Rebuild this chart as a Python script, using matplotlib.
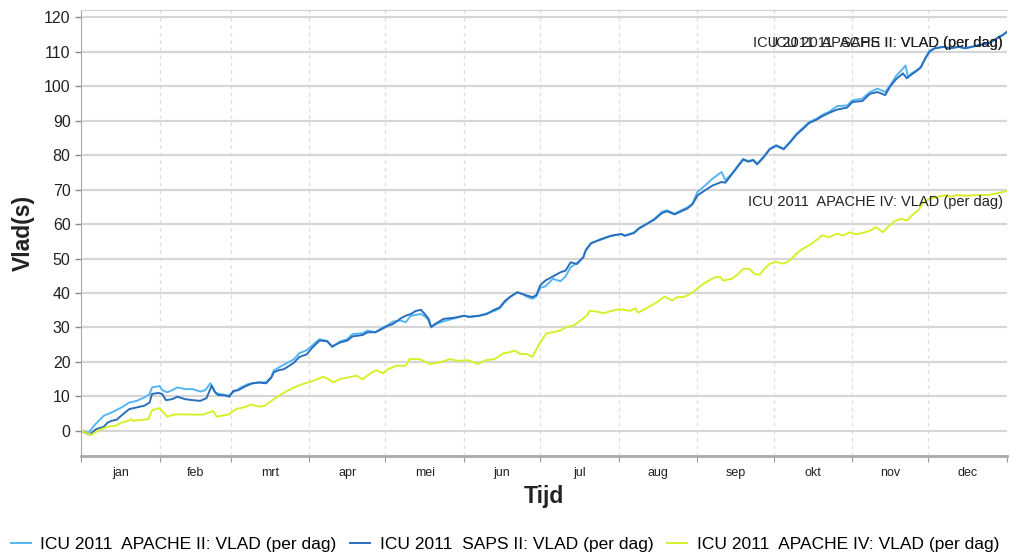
import matplotlib
matplotlib.use("Agg")
import matplotlib.pyplot as plt

plt.rcParams['font.family'] = ['Liberation Sans', 'DejaVu Sans']

# Maandgrenzen (dag van het jaar) en labels
month_edges = [0, 31, 59, 90, 120, 151, 181, 212, 243, 273, 304, 334, 365]
month_labels = ['jan', 'feb', 'mrt', 'apr', 'mei', 'jun', 'jul', 'aug', 'sep', 'okt', 'nov', 'dec']

# ICU 2011 APACHE II: VLAD (per dag)
apache2_day = [0, 3, 5, 7, 9, 12, 16, 19, 22, 25, 27, 28, 31, 32, 34, 36, 38, 41, 44, 47,
               49, 51, 52, 53, 55, 58, 60, 61, 63, 66, 68, 70, 73, 75, 76, 78, 80, 84, 86, 89,
               91, 94, 97, 99, 102, 105, 107, 111, 113, 116, 118, 121, 123, 126, 128, 130, 134, 136, 137, 138,
               140, 143, 147, 151, 153, 157, 160, 163, 165, 167, 169, 172, 174, 176, 178, 179.5, 181, 183, 186, 189,
               191, 193, 195, 198, 199, 201, 202, 205, 207, 209, 213, 214, 218, 220, 223, 226, 229, 231, 234, 236,
               239, 241, 243, 246, 249, 252.5, 254, 256.5, 259, 261, 263, 265, 266.5, 269, 271.5, 274, 277, 279.5, 282, 285,
               287, 290, 292, 295, 298, 302, 304, 308, 311, 314, 317, 319, 321.5, 323.5, 325, 326, 327, 329.5, 331, 333,
               334.5, 336.5, 340, 342.5, 346, 348.5, 351, 354.5, 358, 361, 363.5, 365]
apache2_val = [0, -0.6, 1.4, 2.9, 4.4, 5.3, 6.8, 8.2, 8.7, 9.7, 10.6, 12.6, 13.0, 11.8, 11.2, 11.8, 12.6, 12.1, 12.1, 11.4,
               11.8, 13.8, 12.6, 10.9, 10.7, 10.2, 11.2, 11.6, 12.6, 13.6, 13.8, 14.1, 14.1, 15.7, 17.5, 18.4, 19.2, 20.8, 22.5, 23.4,
               24.7, 26.6, 26.1, 24.3, 25.9, 26.6, 28.1, 28.3, 29.1, 28.6, 29.6, 30.7, 31.7, 32.0, 31.5, 33.4, 33.9, 33.0, 32.0, 30.0,
               31.0, 31.8, 32.6, 33.4, 33.0, 33.4, 34.1, 34.8, 35.5, 37.3, 38.8, 40.2, 39.7, 38.8, 38.3, 39.0, 41.5, 41.9, 44.1, 43.4,
               44.8, 47.5, 48.4, 50.4, 52.3, 54.4, 54.7, 55.7, 56.2, 56.6, 57.1, 56.6, 57.6, 58.9, 60.1, 61.5, 63.5, 64.0, 63.0, 63.8,
               64.8, 65.9, 69.3, 71.2, 73.2, 75.1, 72.7, 74.6, 77.0, 78.9, 78.3, 78.7, 77.5, 79.5, 81.9, 82.9, 81.9, 83.9, 86.2, 88.2,
               89.6, 90.6, 91.6, 92.6, 94.2, 94.4, 95.9, 96.4, 98.3, 99.3, 98.3, 100.3, 103.2, 104.7, 106.0, 102.5, 103.5, 104.7, 105.6, 108.5,
               110.3, 111.0, 111.4, 111.0, 111.4, 111.0, 111.4, 112.0, 112.5, 113.9, 114.9, 115.8]

# ICU 2011 SAPS II: VLAD (per dag)
saps2_day = [0, 3.5, 6, 9, 10.5, 12, 14, 16.5, 19, 22, 25, 27, 28, 30.5, 32, 33.5, 36, 38, 41, 44,
             47, 49.5, 51.5, 52.5, 54, 56.5, 58.5, 60, 62, 64.5, 67.5, 70, 73, 75, 76, 78, 80, 84, 86, 89,
             91, 94, 97, 99, 102, 105, 107, 111, 113, 116, 118, 121, 123, 126, 128, 130, 132, 134, 135.5, 137,
             138, 140, 143, 147, 151, 153, 157, 160, 162.5, 165, 167, 169, 172, 174, 176, 178, 179.5, 181, 183, 186,
             189, 191, 193, 195.5, 198, 199, 201, 202, 205, 207, 209, 213, 214.5, 218, 220, 223, 226, 229, 231, 234,
             236, 239, 241, 243, 246, 249, 252.5, 254, 256.5, 259, 261, 263, 265, 266.5, 269, 271.5, 274, 277, 279.5, 282,
             285, 287, 290, 292, 295, 298, 302, 304, 308, 311, 314, 317, 319, 321.5, 324, 325.5, 327, 329.5, 331, 333,
             334.5, 336.5, 340, 342.5, 346, 348.5, 351, 354.5, 358, 361, 363.5, 365]
saps2_val = [0, -1.1, 0.5, 1.2, 2.4, 2.9, 3.2, 4.8, 6.3, 6.8, 7.3, 8.2, 10.7, 11.0, 10.7, 8.9, 9.2, 9.9, 9.2, 8.9,
             8.7, 9.5, 13.1, 11.6, 10.4, 10.3, 9.9, 11.6, 11.8, 12.8, 13.8, 14.0, 13.8, 15.4, 17.0, 17.6, 17.9, 19.8, 21.4, 22.2,
             24.0, 26.2, 26.0, 24.5, 25.6, 26.2, 27.4, 27.8, 28.6, 28.6, 29.3, 30.5, 31.0, 32.6, 33.4, 33.9, 34.8, 35.1, 33.9, 32.5,
             30.2, 31.2, 32.5, 32.8, 33.4, 33.1, 33.4, 33.9, 35.0, 35.8, 37.6, 38.8, 40.2, 39.7, 39.2, 38.8, 39.4, 42.2, 43.6, 44.8,
             46.0, 46.5, 48.9, 48.4, 50.4, 52.5, 54.4, 54.7, 55.5, 56.0, 56.6, 57.1, 56.6, 57.4, 58.7, 60.0, 61.3, 63.2, 63.7, 62.8,
             63.5, 64.5, 65.7, 68.3, 69.8, 71.2, 72.2, 72.0, 74.4, 76.8, 78.7, 78.1, 78.5, 77.3, 79.3, 81.7, 82.7, 81.7, 83.7, 85.9,
             87.9, 89.3, 90.3, 91.2, 92.3, 93.2, 93.8, 95.4, 95.7, 97.8, 98.3, 97.4, 100.0, 102.2, 103.7, 102.3, 103.2, 104.5, 105.4, 108.3,
             110.0, 111.0, 111.4, 111.0, 111.4, 111.0, 111.4, 112.0, 112.5, 113.9, 114.9, 115.8]

# ICU 2011 APACHE IV: VLAD (per dag)
apache4_day = [0, 4, 7, 10.5, 13.5, 16, 18.5, 20, 20.5, 23, 26.5, 28, 31, 32.5, 34, 36.5, 39.5, 44, 48, 50.5,
               52, 53.5, 55.5, 58.5, 61, 64, 67, 70.5, 72.5, 76, 80, 84, 87.5, 91.5, 95.5, 97.5, 99.5, 102, 105.5, 108.5,
               111, 114.5, 116.5, 119, 121, 124.5, 128, 129.5, 133.5, 137.5, 141.5, 145.5, 148.5, 152.5, 156.5, 159.5, 163, 166.5, 169, 171,
               173, 175.5, 178, 179.5, 181.5, 183.5, 186, 189, 191.5, 194, 196.5, 199.5, 200.5, 203.5, 206, 209, 212.5, 216.5, 218.5, 219.5,
               223, 227, 230, 233, 235, 237.5, 240, 242, 244.5, 247.5, 250, 252, 253, 256.5, 259, 261, 263.5, 265.5, 267.5, 269,
               271.5, 274, 277, 279.5, 282, 284.5, 288, 290.5, 292, 295, 298, 300.5, 303, 305.5, 309, 311, 313.5, 316, 318, 321,
               323.5, 325.5, 327.5, 330, 332, 334.5, 338, 341, 342.5, 345, 349, 353, 357, 361, 365]
apache4_val = [0, -1.2, 0.2, 1.2, 1.45, 2.4, 2.9, 3.4, 2.9, 3.1, 3.4, 6.0, 6.6, 5.3, 4.1, 4.7, 4.8, 4.7, 4.7, 5.3,
               5.8, 4.1, 4.4, 4.8, 6.3, 6.8, 7.6, 7.0, 7.3, 9.2, 11.1, 12.6, 13.6, 14.5, 15.7, 15.0, 14.1, 15.0, 15.5, 16.0,
               15.0, 16.9, 17.6, 16.7, 17.9, 18.9, 18.9, 20.8, 20.8, 19.4, 19.9, 20.8, 20.3, 20.5, 19.4, 20.5, 20.8, 22.5, 22.8, 23.3,
               22.3, 22.3, 21.5, 23.7, 26.2, 28.3, 28.6, 29.1, 30.2, 30.5, 31.8, 33.5, 34.8, 34.6, 34.1, 34.8, 35.3, 34.8, 35.6, 34.3,
               35.6, 37.3, 39.0, 37.8, 38.8, 38.8, 39.7, 40.7, 42.2, 43.6, 44.6, 44.6, 43.6, 44.1, 45.5, 47.0, 47.0, 45.5, 45.3, 46.7,
               48.5, 49.0, 48.5, 49.5, 51.4, 52.8, 54.3, 55.7, 56.7, 56.2, 57.2, 56.7, 57.6, 57.0, 57.6, 58.1, 59.1, 57.6, 59.1, 61.0,
               61.5, 61.0, 62.5, 64.0, 66.3, 67.4, 67.9, 68.4, 67.9, 68.4, 68.2, 68.4, 68.4, 68.9, 69.6]

series = [
    ('ICU 2011  APACHE II: VLAD (per dag)', apache2_day, apache2_val, '#55b6f2'),
    ('ICU 2011  SAPS II: VLAD (per dag)', saps2_day, saps2_val, '#2a6fbd'),
    ('ICU 2011  APACHE IV: VLAD (per dag)', apache4_day, apache4_val, '#d6f02a'),
]

fig = plt.figure(figsize=(10.1, 5.53), dpi=100)
ax = fig.add_axes([81 / 1010, 1 - 456 / 553, (1007 - 81) / 1010, (456 - 10) / 553])

for label, days, vals, color in series:
    ax.plot(days, vals, color=color, lw=1.4, label=label)

# labels aan het eind van de lijnen
for label, days, vals, color in series:
    ax.annotate(label, xy=(days[-1], vals[-1]), xytext=(-3, -8), textcoords='offset points',
                ha='right', va='center', fontsize=10.5, color='#222222')

ax.set_xlim(0, 365)
ax.set_ylim(-7.3, 122.1)
ax.set_yticks(range(0, 121, 10))
ax.tick_params(axis='y', labelsize=11.5, colors='#888888', labelcolor='#222222', length=4, width=1)

ax.set_xticks(month_edges)
ax.set_xticklabels([])
mids = [(month_edges[i] + month_edges[i + 1]) / 2 for i in range(12)]
ax.set_xticks(mids, minor=True)
ax.set_xticklabels(month_labels, minor=True, fontsize=9)
ax.tick_params(axis='x', which='major', length=4, colors='#999999')
ax.tick_params(axis='x', which='minor', length=0, pad=8, labelcolor='#222222')

ax.grid(axis='y', color='#d6d6d6', lw=1.6)
ax.grid(axis='x', which='major', color='#dddddd', lw=0.9, ls=(0, (3, 3)))
ax.set_axisbelow(True)

ax.spines['right'].set_visible(False)
ax.spines['top'].set_color('#d0d0d0')
ax.spines['left'].set_color('#aaaaaa')
ax.spines['bottom'].set_color('#aaaaaa')
ax.spines['bottom'].set_linewidth(2)

fig.text(23 / 1010, 1 - 233 / 553, 'Vlad(s)', rotation=90, ha='center', va='center',
         fontsize=16.5, fontweight='bold', color='#222222')
fig.text(544 / 1010, 1 - 497 / 553, 'Tijd', ha='center', va='center',
         fontsize=16.5, fontweight='bold', color='#222222')

fig.legend(loc='center', bbox_to_anchor=(0.5, 1 - 544 / 553), ncol=3, frameon=False,
           fontsize=12.5, handlelength=1.15, handletextpad=0.55, columnspacing=0.8,
           borderaxespad=0)

fig.savefig('out.png', dpi=100)
plt.close(fig)
